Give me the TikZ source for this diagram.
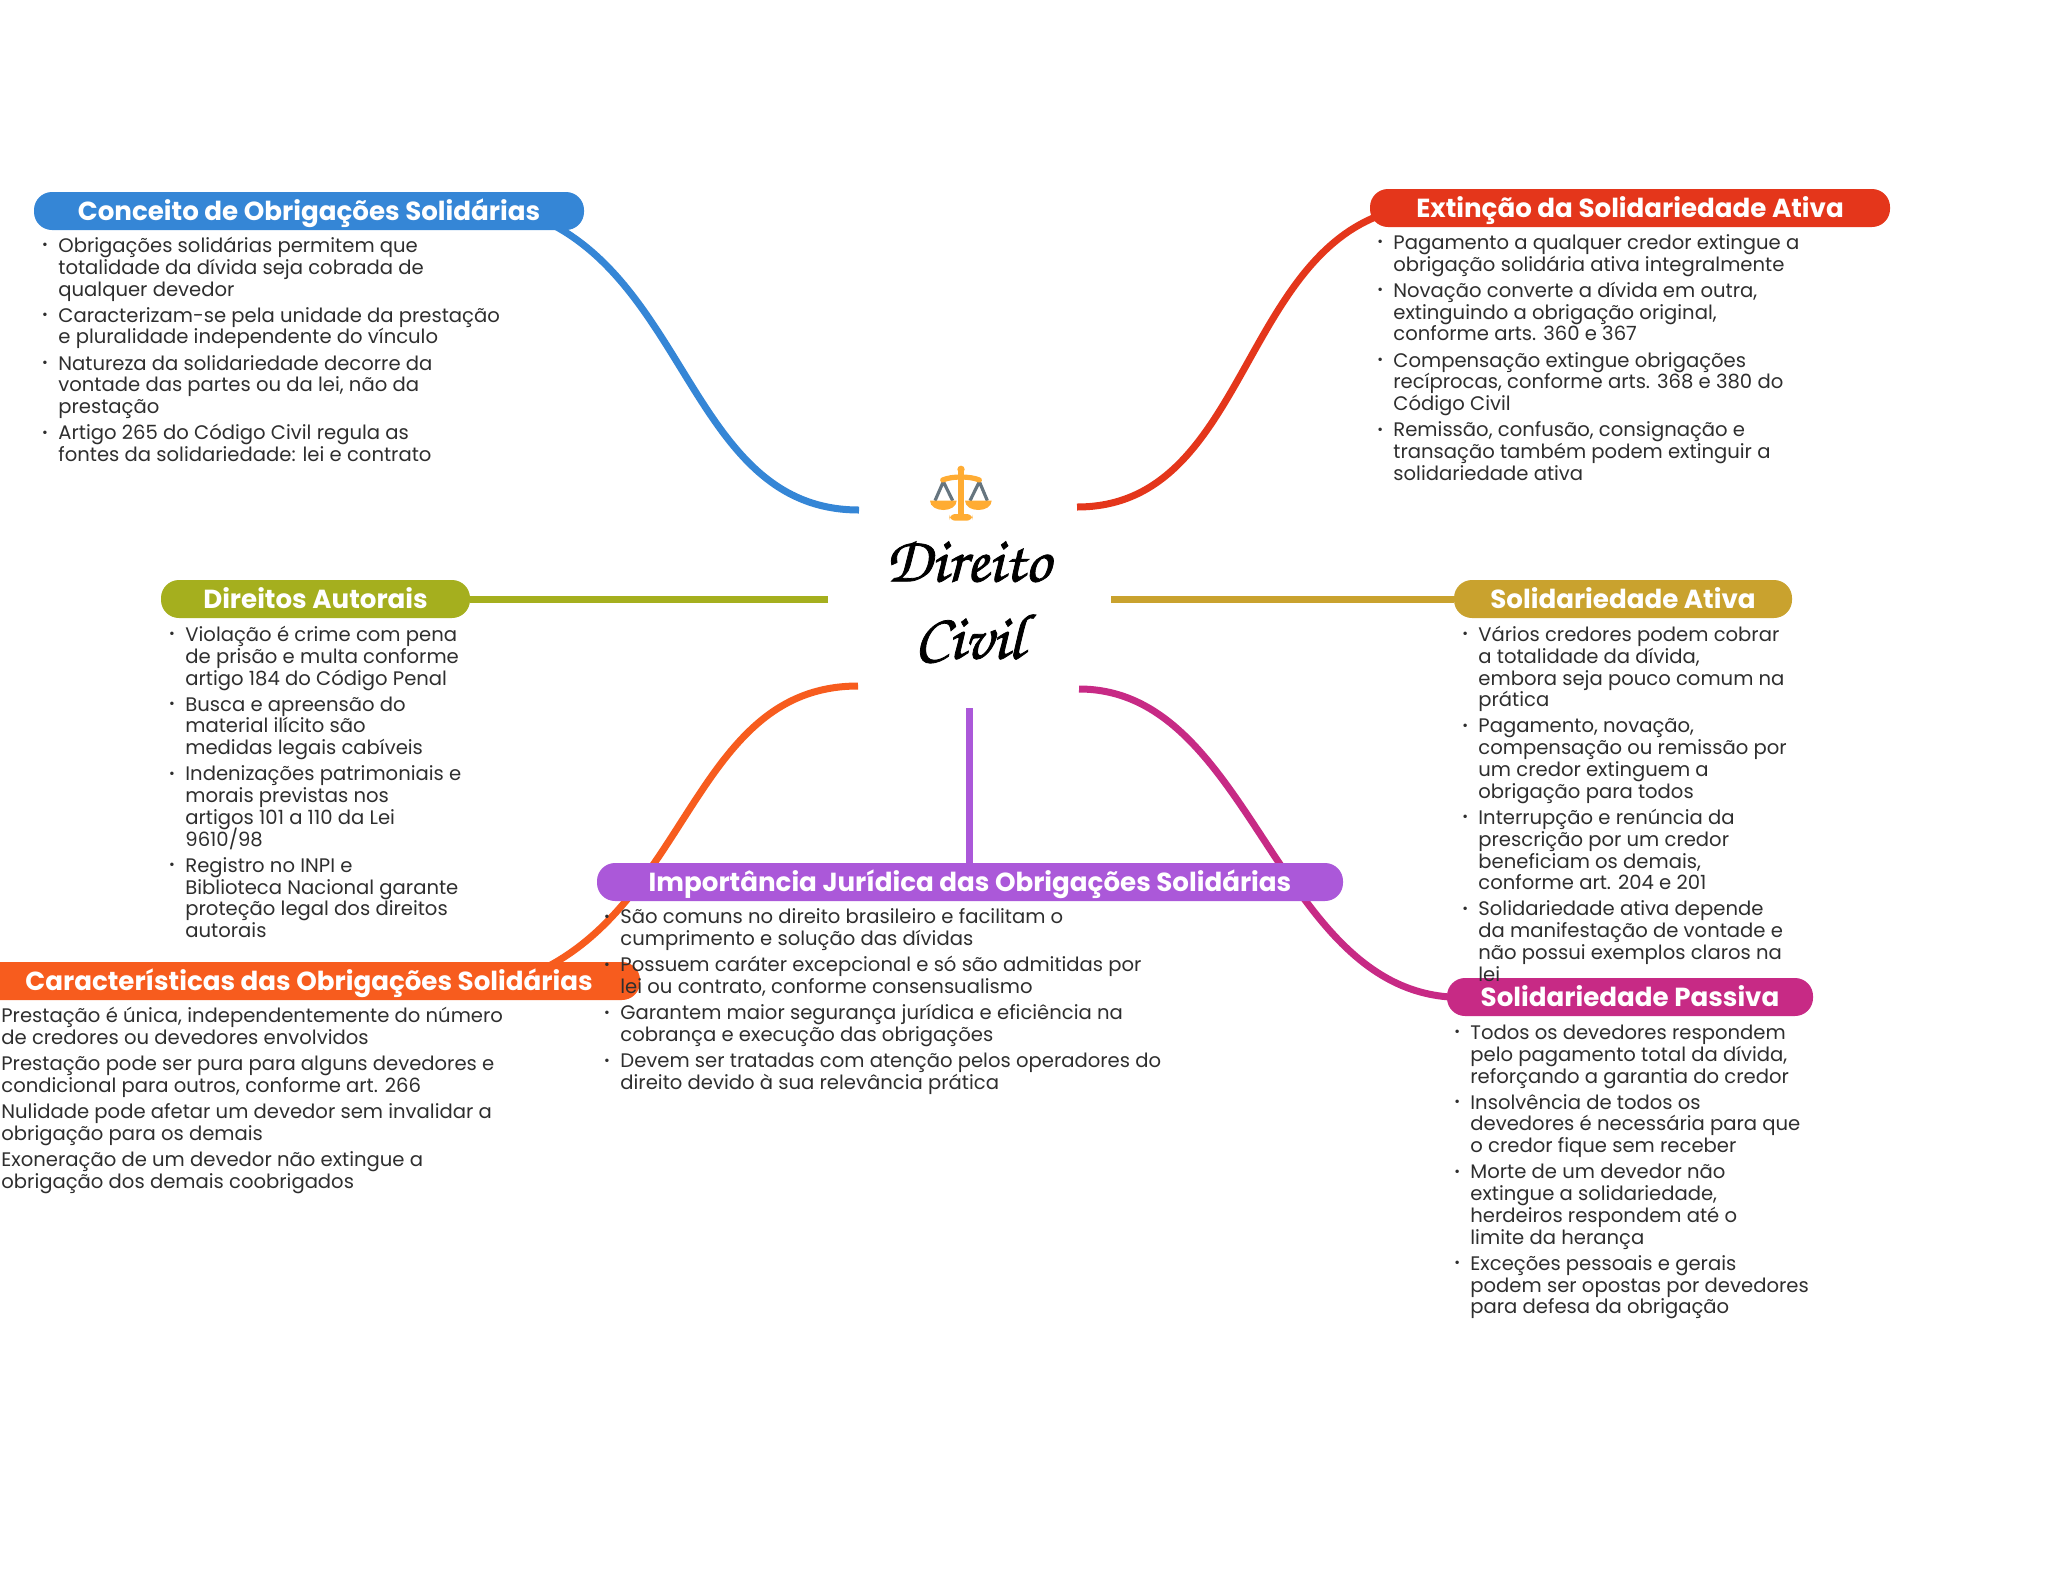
\documentclass[tikz,border=0pt]{standalone}
\usepackage{fontspec}
\setmainfont{Poppins}
\definecolor{cBlue}{HTML}{3586D6}
\definecolor{cRed}{HTML}{E4361B}
\definecolor{cOlive}{HTML}{A5AF1E}
\definecolor{cGold}{HTML}{C9A22E}
\definecolor{cOrange}{HTML}{F75C1E}
\definecolor{cPurple}{HTML}{AB58D9}
\definecolor{cMagenta}{HTML}{C72A85}
\definecolor{cText}{HTML}{2E2E2E}
\definecolor{cScale}{HTML}{FFAC33}
\definecolor{cString}{HTML}{66757F}
\lineskiplimit=-100pt
\normallineskiplimit=-100pt
\newcommand{\fs}{\rule{0pt}{10pt}}
\newcommand{\bl}{\leavevmode\fs\llap{\raisebox{1.3pt}{\fontsize{7}{7}\selectfont •}\hspace{5.2pt}}}
\newcommand{\gp}{\\[2.15pt]}
\tikzset{
  x=0.5pt,y=-0.5pt,
  hd/.style={draw=none,fill=#1,rounded corners=9pt,text=white,inner sep=0pt,minimum height=19pt,
    text height=11pt,text depth=2pt,font=\fontsize{13.07}{15}\bfseries\selectfont},
  bodytxt/.style={anchor=north west,inner sep=0pt,align=left,text=cText,font=\fontsize{9.8}{10.9}\selectfont},
  conn/.style={draw=#1,line width=3.5pt},
  titletxt/.style={inner sep=0pt,text=black,font=\fontsize{32.4}{36}\usefont{OT1}{pzc}{mb}{it}},
}
\begin{document}
\begin{tikzpicture}
\useasboundingbox (0,0) rectangle (2048,1569);
% connector free ends
\coordinate (oBlue) at (859,510);
\coordinate (oRed) at (1077,507);
\coordinate (oOlive) at (828,599);
\coordinate (oGold) at (1111,599);
\coordinate (oOrange) at (858,686);
\coordinate (oMagenta) at (1079,689);
\coordinate (oPurple) at (969,708);
\coordinate (eBlue) at (555,226);
\coordinate (eRed) at (1378,216);
\coordinate (eOrange) at (549,966);
\coordinate (eMagenta) at (1450,997);
\coordinate (ePurple) at (969,870);
% headers
\path (309,211) coordinate (pA) (1630,208) coordinate (pB) (315.5,599) coordinate (pC) (1623,599) coordinate (pD)
 (309,981) coordinate (pE) (970,882) coordinate (pF) (1630,997) coordinate (pG);
\draw[conn=cBlue] (oBlue) .. controls (700,510) and (690,300) .. (eBlue);
\draw[conn=cRed] (oRed) .. controls (1240,507) and (1240,270) .. (eRed);
\draw[conn=cOrange] (oOrange) .. controls (700,686) and (690,890) .. (eOrange);
\draw[conn=cMagenta] (oMagenta) .. controls (1250,689) and (1275,985) .. (eMagenta);
\node[hd=cBlue,minimum width=275pt] (hConceito) at (pA) {Conceito de Obrigações Solidárias};
\node[hd=cRed,minimum width=260pt] (hExtincao) at (pB) {Extinção da Solidariedade Ativa};
\node[hd=cOlive,minimum width=154.5pt] (hDireitos) at (pC) {Direitos Autorais};
\node[hd=cGold,minimum width=169pt] (hAtiva) at (pD) {Solidariedade Ativa};
\node[hd=cOrange,minimum width=331pt] (hCaract) at (pE) {Características das Obrigações Solidárias};
\node[hd=cPurple,minimum width=373pt] (hImport) at (pF) {Importância Jurídica das Obrigações Solidárias};
\node[hd=cMagenta,minimum width=183pt] (hPassiva) at (pG) {Solidariedade Passiva};
\draw[conn=cOlive] (oOlive) -- (hDireitos.east);
\draw[conn=cGold] (oGold) -- (hAtiva.west);
\draw[conn=cPurple] (oPurple) -- (ePurple);
% bodies
\node[bodytxt] (tConceito) at (58,232) {\bl Obrigações solidárias permitem que\\totalidade da dívida seja cobrada de\\qualquer devedor\gp
\bl Caracterizam-se pela unidade da prestação\\e pluralidade independente do vínculo\gp
\bl Natureza da solidariedade decorre da\\vontade das partes ou da lei, não da\\prestação\gp
\bl Artigo 265 do Código Civil regula as\\fontes da solidariedade: lei e contrato};
\node[bodytxt] (tExtincao) at (1393,229) {\bl Pagamento a qualquer credor extingue a\\obrigação solidária ativa integralmente\gp
\bl Novação converte a dívida em outra,\\extinguindo a obrigação original,\\conforme arts. 360 e 367\gp
\bl Compensação extingue obrigações\\recíprocas, conforme arts. 368 e 380 do\\Código Civil\gp
\bl Remissão, confusão, consignação e\\transação também podem extinguir a\\solidariedade ativa};
\node[bodytxt] (tDireitos) at (185,621) {\bl Violação é crime com pena\\de prisão e multa conforme\\artigo 184 do Código Penal\gp
\bl Busca e apreensão do\\material ilícito são\\medidas legais cabíveis\gp
\bl Indenizações patrimoniais e\\morais previstas nos\\artigos 101 a 110 da Lei\\9610/98\gp
\bl Registro no INPI e\\Biblioteca Nacional garante\\proteção legal dos direitos\\autorais};
\node[bodytxt] (tAtiva) at (1478,621) {\bl Vários credores podem cobrar\\a totalidade da dívida,\\embora seja pouco comum na\\prática\gp
\bl Pagamento, novação,\\compensação ou remissão por\\um credor extinguem a\\obrigação para todos\gp
\bl Interrupção e renúncia da\\prescrição por um credor\\beneficiam os demais,\\conforme art. 204 e 201\gp
\bl Solidariedade ativa depende\\da manifestação de vontade e\\não possui exemplos claros na\\lei};
\node[bodytxt] (tCaract) at (1,1002.5) {\fs Prestação é única, independentemente do número\\de credores ou devedores envolvidos\gp
\fs Prestação pode ser pura para alguns devedores e\\condicional para outros, conforme art. 266\gp
\fs Nulidade pode afetar um devedor sem invalidar a\\obrigação para os demais\gp
\fs Exoneração de um devedor não extingue a\\obrigação dos demais coobrigados};
\node[bodytxt] (tImport) at (620,903.5) {\bl São comuns no direito brasileiro e facilitam o\\cumprimento e solução das dívidas\gp
\bl Possuem caráter excepcional e só são admitidas por\\lei ou contrato, conforme consensualismo\gp
\bl Garantem maior segurança jurídica e eficiência na\\cobrança e execução das obrigações\gp
\bl Devem ser tratadas com atenção pelos operadores do\\direito devido à sua relevância prática};
\node[bodytxt] (tPassiva) at (1470,1019) {\bl Todos os devedores respondem\\pelo pagamento total da dívida,\\reforçando a garantia do credor\gp
\bl Insolvência de todos os\\devedores é necessária para que\\o credor fique sem receber\gp
\bl Morte de um devedor não\\extingue a solidariedade,\\herdeiros respondem até o\\limite da herança\gp
\bl Exceções pessoais e gerais\\podem ser opostas por devedores\\para defesa da obrigação};
% title
\node[titletxt] (titleA) at (968,561) {\special{pdf:code 2 Tr 0.4 w}Direito\special{pdf:code 0 Tr}};
\node[titletxt] (titleB) at (969,636) {\special{pdf:code 2 Tr 0.4 w}Civil\special{pdf:code 0 Tr}};
% scales icon, in 1/3 px
\begin{scope}[shift={(820,430)},x=0.16667pt,y=-0.16667pt]
\draw[cString,line width=1.6pt] (370,155) -- (345,212) (370,155) -- (398,212) (478,155) -- (450,212) (478,155) -- (502,212);
\fill[cScale] (415,118) rectangle (431,255);
\fill[cScale] (423,118) circle[radius=11];
\draw[cScale,line width=2.6pt,line cap=round] (368,150) .. controls (395,138) and (450,138) .. (478,150);
\fill[cScale,rounded corners=3pt] (388,252) rectangle (458,272);
\fill[cScale] (330,212) -- (410,212) .. controls (410,230) and (390,240) .. (370,240) .. controls (350,240) and (330,230) .. (330,212) -- cycle;
\fill[cScale] (435,212) -- (515,212) .. controls (515,230) and (495,240) .. (475,240) .. controls (455,240) and (435,230) .. (435,212) -- cycle;
\end{scope}
\end{tikzpicture}
\end{document}
